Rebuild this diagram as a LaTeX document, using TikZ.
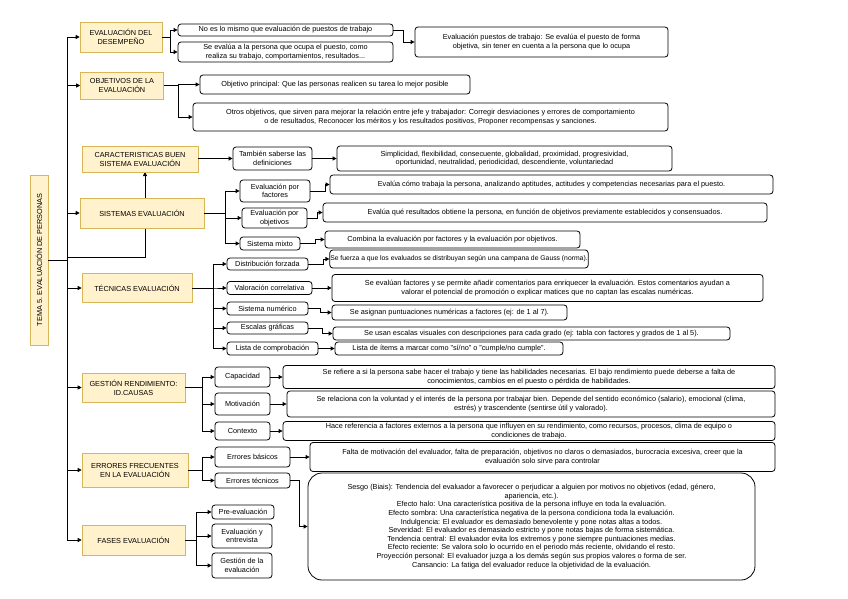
\documentclass[tikz,border=0pt]{standalone}
\usepackage{fontspec}
\setmainfont{Liberation Sans}
\usetikzlibrary{arrows.meta,calc}
\definecolor{yfill}{HTML}{FFF2CC}
\definecolor{yline}{HTML}{D6B656}
\pgfdeclarelayer{bg}
\pgfsetlayers{bg,main}
\tikzset{
  sb/.style={draw=black, fill=white, rounded corners=3pt, line width=0.8pt, align=center, inner sep=0.5pt, font=\fontsize{7.3}{8.6}\selectfont},
  mb/.style={draw=yline, fill=yfill, line width=0.6pt, align=center, inner sep=1pt, font=\fontsize{7.3}{9}\selectfont},
  con/.style={line width=0.8pt, black},
  arr/.style={con, -{Triangle[length=4pt,width=4pt]}},
}
\begin{document}
\begin{tikzpicture}[x=1pt,y=-1pt]
\useasboundingbox (0,0) rectangle (848,599);
% left title
\node[mb, rotate=90, minimum width=170, minimum height=18] (tema) at (39,260) {TEMA 5. EVALUACIÓN DE PERSONAS};
% main boxes
\node[mb, minimum width=82, minimum height=30] (mdes) at (121,37) {EVALUACIÓN DEL\\DESEMPEÑO};
\node[mb, minimum width=83, minimum height=27] (mobj) at (122,85.5) {OBJETIVOS DE LA\\EVALUACIÓN};
\node[mb, minimum width=116, minimum height=26] (mcar) at (140,159) {CARACTERISTICAS BUEN\\SISTEMA EVALUACIÓN};
\node[mb, minimum width=124, minimum height=30] (msis) at (142,213) {SISTEMAS EVALUACIÓN};
\node[mb, minimum width=110, minimum height=29] (mtec) at (137,288) {TÉCNICAS EVALUACIÓN};
\node[mb, minimum width=103, minimum height=29] (mges) at (133.5,387.5) {GESTIÓN RENDIMIENTO:\\ID.CAUSAS};
\node[mb, minimum width=106, minimum height=34] (merr) at (135,470) {ERRORES FRECUENTES\\EN LA EVALUACIÓN};
\node[mb, minimum width=103, minimum height=30] (mfas) at (133.5,540) {FASES EVALUACIÓN};
% trunk
\coordinate (ttop) at (67,37);
\coordinate (tbot) at (67,540);
\coordinate (tcar) at (67,257);
\coordinate (tema e) at (67,260);
\draw[con] (ttop) -- (tbot);
\draw[con] (tema.south) -- (tema e);
\foreach \m in {mdes,mobj,msis,mtec,mges,merr,mfas}{
  \draw[arr] (ttop |- \m.west) -- (\m.west);
}
\begin{pgfonlayer}{bg}
\draw[arr] (tcar) -- (145,257) -- (145,172);
\end{pgfonlayer}
% desempeño
\node[sb, minimum width=215, minimum height=12] (d1) at (285.5,30) {No es lo mismo que evaluación de puestos de trabajo};
\node[sb, minimum width=215, minimum height=20] (d2) at (285.5,52) {Se evalúa a la persona que ocupa el puesto, como\\realiza su trabajo, comportamientos, resultados...};
\node[sb, minimum width=253, minimum height=30] (d3) at (541.5,42) {Evaluación puestos de trabajo: Se evalúa el puesto de forma\\objetiva, sin tener en cuenta a la persona que lo ocupa};
\draw[arr] (mdes.east) -- (170,37) |- (d1.west);
\draw[arr] (mdes.east) -- (170,37) |- (d2.west);
\draw[arr] (d1.east) -- (403,30) |- (d3.west);
% objetivos
\node[sb, minimum width=270, minimum height=19] (o1) at (335,84.5) {Objetivo principal: Que las personas realicen su tarea lo mejor posible};
\node[sb, minimum width=475, minimum height=28] (o2) at (430.5,117) {Otros objetivos, que sirven para mejorar la relación entre jefe y trabajador: Corregir desviaciones y errores de comportamiento\\o de resultados, Reconocer los méritos y los resultados positivos, Proponer recompensas y sanciones.};
\draw[arr] (mobj.east) -- (178,85.5) |- (o1.west);
\draw[arr] (mobj.east) -- (178,85.5) |- (o2.west);
% caracteristicas
\node[sb, minimum width=79, minimum height=23] (c1) at (272.5,158.5) {También saberse las\\definiciones};
\node[sb, minimum width=335, minimum height=25] (c2) at (504.5,158.5) {Simplicidad, flexibilidad, consecuente, globalidad, proximidad, progresividad,\\oportunidad, neutralidad, periodicidad, descendiente, voluntariedad};
\draw[arr] (mcar.east |- c1.west) -- (c1.west);
\draw[arr] (c1.east) -- (c2.west);
% sistemas
\node[sb, minimum width=70, minimum height=22] (s1) at (275,191) {Evaluación por\\factores};
\node[sb, minimum width=65, minimum height=20] (s2) at (274.5,218) {Evaluación por\\objetivos};
\node[sb, minimum width=60, minimum height=13] (s3) at (270,243.5) {Sistema mixto};
\node[sb, minimum width=443, minimum height=19] (s1r) at (551.5,184.5) {Evalúa cómo trabaja la persona, analizando aptitudes, actitudes y competencias necesarias para el puesto.};
\node[sb, minimum width=444, minimum height=19] (s2r) at (545,212.5) {Evalúa qué resultados obtiene la persona, en función de objetivos previamente establecidos y consensuados.};
\node[sb, minimum width=255, minimum height=17] (s3r) at (452.5,239.5) {Combina la evaluación por factores y la evaluación por objetivos.};
\foreach \s in {s1,s2,s3}{\draw[arr] (msis.east) -- (225,213) |- (\s.west);}
\draw[arr] (s1.east) -- (325,191) |- (s1r.west);
\draw[arr] (s2.east) -- (317,218) |- (s2r.west);
\draw[arr] (s3.east) -- (315,243.5) |- (s3r.west);
% tecnicas
\node[sb, minimum width=81, minimum height=12] (t1) at (267.5,264) {Distribución forzada};
\node[sb, minimum width=85, minimum height=13] (t2) at (269.5,288) {Valoración correlativa};
\node[sb, minimum width=81, minimum height=13] (t3) at (267.5,308.5) {Sistema numérico};
\node[sb, minimum width=81, minimum height=12] (t4) at (267.5,328) {Escalas gráficas};
\node[sb, minimum width=91, minimum height=13] (t5) at (272.5,348.5) {Lista de comprobación};
\node[sb, minimum width=254, minimum height=18, font=\fontsize{6.8}{8.4}\selectfont] (t1r) at (459,259) {Se fuerza a que los evaluados se distribuyan según una campana de Gauss (norma).};
\node[sb, minimum width=431, minimum height=27] (t2r) at (547.5,288) {Se evalúan factores y se permite añadir comentarios para enriquecer la evaluación. Estos comentarios ayudan a\\valorar el potencial de promoción o explicar matices que no captan las escalas numéricas.};
\node[sb, minimum width=235, minimum height=15] (t3r) at (449.5,312.5) {Se asignan puntuaciones numéricas a factores (ej: de 1 al 7).};
\node[sb, minimum width=397, minimum height=13] (t4r) at (531.5,333.5) {Se usan escalas visuales con descripciones para cada grado (ej: tabla con factores y grados de 1 al 5).};
\node[sb, minimum width=228, minimum height=13] (t5r) at (449,348.5) {Lista de ítems a marcar como "sí/no" o "cumple/no cumple".};
\foreach \t in {t1,t2,t3,t4,t5}{\draw[arr] (mtec.east) -- (213,288) |- (\t.west);}
\draw[arr] (t1.east) -- (323,264) |- (t1r.west);
\draw[arr] (t2.east) -- (t2r.west);
\draw[arr] (t3.east) -- (320,308.5) |- (t3r.west);
\draw[arr] (t4.east) -- (322,328) |- (t4r.west);
\draw[arr] (t5.east) -- (t5r.west |- t5.east);
% gestion
\node[sb, minimum width=55, minimum height=20] (g1) at (242.5,377) {Capacidad};
\node[sb, minimum width=55, minimum height=22] (g2) at (242.5,404) {Motivación};
\node[sb, minimum width=55, minimum height=18] (g3) at (242.5,431) {Contexto};
\node[sb, minimum width=492, minimum height=23] (g1r) at (529,377) {Se refiere a si la persona sabe hacer el trabajo y tiene las habilidades necesarias. El bajo rendimiento puede deberse a falta de\\conocimientos, cambios en el puesto o pérdida de habilidades.};
\node[sb, minimum width=488, minimum height=26] (g2r) at (531,404) {Se relaciona con la voluntad y el interés de la persona por trabajar bien. Depende del sentido económico (salario), emocional (clima,\\estrés) y trascendente (sentirse útil y valorado).};
\node[sb, minimum width=492, minimum height=19] (g3r) at (529,431) {Hace referencia a factores externos a la persona que influyen en su rendimiento, como recursos, procesos, clima de equipo o\\condiciones de trabajo.};
\foreach \g in {g1,g2,g3}{\draw[arr] (mges.east) -- (202,387.5) |- (\g.west);}
\foreach \g in {g1,g2,g3}{\draw[arr] (\g.east) -- (\g r.west);}
% errores
\node[sb, minimum width=75, minimum height=20] (e1) at (252.5,457) {Errores básicos};
\node[sb, minimum width=75, minimum height=15] (e2) at (252.5,480.5) {Errores técnicos};
\node[sb, minimum width=465, minimum height=29] (e1r) at (542.5,457) {Falta de motivación del evaluador, falta de preparación, objetivos no claros o demasiados, burocracia excesiva, creer que la\\evaluación solo sirve para controlar};
\node[sb, rounded corners=14pt, minimum width=447, minimum height=107] (e2r) at (531.5,526.5) {Sesgo (Biais): Tendencia del evaluador a favorecer o perjudicar a alguien por motivos no objetivos (edad, género,\\apariencia, etc.).\\Efecto halo: Una característica positiva de la persona influye en toda la evaluación.\\Efecto sombra: Una característica negativa de la persona condiciona toda la evaluación.\\Indulgencia: El evaluador es demasiado benevolente y pone notas altas a todos.\\Severidad: El evaluador es demasiado estricto y pone notas bajas de forma sistemática.\\Tendencia central: El evaluador evita los extremos y pone siempre puntuaciones medias.\\Efecto reciente: Se valora solo lo ocurrido en el periodo más reciente, olvidando el resto.\\Proyección personal: El evaluador juzga a los demás según sus propios valores o forma de ser.\\Cansancio: La fatiga del evaluador reduce la objetividad de la evaluación.};
\foreach \e in {e1,e2}{\draw[arr] (merr.east) -- (202,470) |- (\e.west);}
\draw[arr] (e1.east) -- (e1r.west);
\draw[arr] (e2.east) -- (299,480.5) |- (e2r.west);
% fases
\node[sb, minimum width=62, minimum height=14] (f1) at (243,512) {Pre-evaluación};
\node[sb, minimum width=60, minimum height=24] (f2) at (242,536) {Evaluación y\\entrevista};
\node[sb, minimum width=60, minimum height=25] (f3) at (242,565.5) {Gestión de la\\evaluación};
\foreach \f in {f1,f2,f3}{\draw[arr] (mfas.east) -- (196,540) |- (\f.west);}
\end{tikzpicture}
\end{document}
